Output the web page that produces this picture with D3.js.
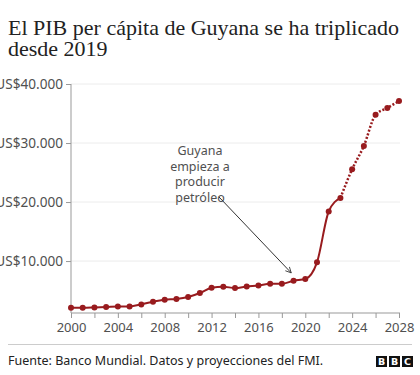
<!DOCTYPE html>
<html><head><meta charset="utf-8">
<script src="https://cdn.jsdelivr.net/npm/d3@7"></script>
<style>body{margin:0;background:#fff}svg{display:block}</style>
</head><body>
<script>
const years = [2000,2001,2002,2003,2004,2005,2006,2007,2008,2009,2010,2011,2012,2013,2014,2015,2016,2017,2018,2019,2020,2021,2022,2023,2024,2025,2026,2027,2028];
const gdpPerCapita = [2100,2100,2150,2220,2320,2320,2660,3110,3450,3570,3900,4580,5480,5650,5430,5700,5870,6160,6160,6670,6950,9780,18400,20700,25570,29500,34800,35940,37120];
const lastActualYear = 2023;
const yTicks = [10000,20000,30000,40000];
const xTickYears = [2000,2002,2004,2006,2008,2010,2012,2014,2016,2018,2020,2022,2024,2026,2028];
const xLabelYears = [2000,2004,2008,2012,2016,2020,2024,2028];
const titleLines = ["El PIB per cápita de Guyana se ha triplicado","desde 2019"];
const annotationLines = ["Guyana","empieza a","producir","petróleo"];
const source = "Fuente: Banco Mundial. Datos y proyecciones del FMI.";

const W=420,H=375;
const svg=d3.select("body").append("svg").attr("width",W).attr("height",H);
const red="#981b1e", grey="#505050";
const sans="'Noto Sans', sans-serif";

svg.selectAll("text.title").data(titleLines).join("text")
  .attr("x",8).attr("y",(d,i)=>35+i*20.5)
  .attr("font-family","'Liberation Serif', serif").attr("font-size",22).attr("fill","#222")
  .text(d=>d);

const x=d3.scaleLinear().domain([2000,2028]).range([71,399]);
const y=d3.scaleLinear().domain([1200,40000]).range([313,84]);

// grid
svg.append("g").selectAll("line").data(yTicks).join("line")
  .attr("x1",71).attr("x2",400).attr("y1",d=>y(d)).attr("y2",d=>y(d))
  .attr("stroke","#ececec").attr("stroke-width",1);

// y axis
const yAx=svg.append("g").attr("transform","translate(71,0)")
  .call(d3.axisLeft(y).tickValues(yTicks).tickSize(5).tickPadding(3)
    .tickFormat(d=>"US$"+d3.format(",")(d).replace(/,/g,".")));
yAx.select(".domain").attr("stroke","#999").attr("d","M0,84V313");
yAx.selectAll(".tick line").attr("stroke","#999");
yAx.selectAll("text").attr("font-family",sans).attr("font-size",13.6).attr("fill",grey);

// x axis
const xAx=svg.append("g").attr("transform","translate(0,313)")
  .call(d3.axisBottom(x).tickValues(xTickYears).tickSize(5).tickPadding(5)
    .tickFormat(d=>xLabelYears.includes(d)?d:""));
xAx.select(".domain").attr("stroke","#999").attr("d","M71,0H400");
xAx.selectAll(".tick line").attr("stroke","#999");
xAx.selectAll("text").attr("font-family",sans).attr("font-size",13).attr("fill",grey);

const data=years.map((yr,i)=>({yr,v:gdpPerCapita[i]}));
const line=d3.line().x(d=>x(d.yr)).y(d=>y(d.v)).curve(d3.curveMonotoneX);
svg.append("path").datum(data.filter(d=>d.yr<=lastActualYear)).attr("d",line)
  .attr("fill","none").attr("stroke",red).attr("stroke-width",2);
svg.append("path").datum(data.filter(d=>d.yr>=lastActualYear)).attr("d",line)
  .attr("fill","none").attr("stroke",red).attr("stroke-width",2.5).attr("stroke-dasharray","2,1.8");
svg.append("g").selectAll("circle").data(data).join("circle")
  .attr("cx",d=>x(d.yr)).attr("cy",d=>y(d.v)).attr("r",3).attr("fill",red);

// annotation
svg.selectAll("text.ann").data(annotationLines).join("text")
  .attr("x",200).attr("y",(d,i)=>155+i*15.6).attr("text-anchor","middle")
  .attr("font-family",sans).attr("font-size",12.5).attr("fill",grey).text(d=>d);
svg.append("defs").append("marker").attr("id","arr").attr("viewBox","0 0 10 10")
  .attr("refX",9).attr("refY",5).attr("markerWidth",7).attr("markerHeight",7).attr("orient","auto")
  .append("path").attr("d","M1,1L9,5L1,9").attr("fill","none").attr("stroke","#333").attr("stroke-width",1.2);
svg.append("line").attr("x1",219).attr("y1",197).attr("x2",x(2018.8)).attr("y2",y(8000))
  .attr("stroke","#333").attr("stroke-width",1).attr("marker-end","url(#arr)");

// footer
svg.append("line").attr("x1",8).attr("x2",412).attr("y1",344.5).attr("y2",344.5).attr("stroke","#ccc");
svg.append("text").attr("x",8).attr("y",365).attr("font-family",sans).attr("font-size",12.5).attr("fill","#222").text(source);
const logo=svg.append("g");
["B","B","C"].forEach((c,i)=>{
  const lx=376+i*13;
  logo.append("rect").attr("x",lx).attr("y",356).attr("width",11).attr("height",11).attr("fill","#111");
  logo.append("text").attr("x",lx+5.5).attr("y",365).attr("text-anchor","middle")
    .attr("font-family","'DejaVu Sans', sans-serif").attr("font-weight","bold").attr("font-size",9.5).attr("fill","#fff").text(c);
});
</script>
</body></html>
